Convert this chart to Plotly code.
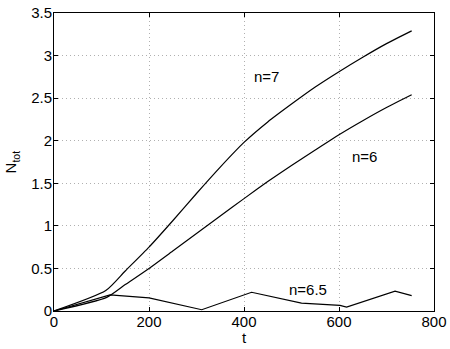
import plotly.graph_objects as go

# n = 7
t_n7 = [0, 109, 150, 200, 250, 300, 350, 400, 450, 500, 550, 600, 650, 700, 753]
v_n7 = [0, 0.24, 0.47, 0.75, 1.06, 1.38, 1.69, 1.98, 2.22, 2.43, 2.63, 2.81, 2.98, 3.14, 3.29]

# n = 6
t_n6 = [0, 111, 150, 200, 250, 300, 350, 400, 450, 500, 550, 600, 650, 700, 753]
v_n6 = [0, 0.16, 0.31, 0.50, 0.705, 0.91, 1.115, 1.32, 1.52, 1.71, 1.89, 2.07, 2.235, 2.39, 2.54]

# n = 6.5
t_n65 = [0, 118, 200, 250, 286, 311, 416, 521, 602, 616, 718, 753]
v_n65 = [0, 0.19, 0.155, 0.09, 0.045, 0.015, 0.22, 0.092, 0.065, 0.045, 0.233, 0.18]

x_ticks = [0, 200, 400, 600, 800]
y_ticks = [0, 0.5, 1, 1.5, 2, 2.5, 3, 3.5]

labels = ["n=7", "n=6", "n=6.5"]
label_t = [448, 654, 534]
label_v = [2.75, 1.81, 0.25]

FONT = "Liberation Sans, Arial, Helvetica, sans-serif"

fig = go.Figure()
for tx, vy, shp in [(t_n7, v_n7, "spline"), (t_n6, v_n6, "spline"), (t_n65, v_n65, "linear")]:
    fig.add_trace(go.Scatter(x=tx, y=vy, mode="lines",
                             line=dict(color="black", width=1.2, shape=shp, smoothing=0.6),
                             showlegend=False, hoverinfo="skip"))

for txt, lx, ly in zip(labels, label_t, label_v):
    fig.add_annotation(x=lx, y=ly, text=txt, showarrow=False,
                       font=dict(family=FONT, size=15, color="black"))

# axis titles
fig.add_annotation(x=0.5, y=-0.09, xref="paper", yref="paper", text="t",
                   showarrow=False, xanchor="center", yanchor="middle",
                   font=dict(family=FONT, size=15, color="black"))
fig.add_annotation(x=-0.112, y=0.5, xref="paper", yref="paper", text="N<sub>tot</sub>",
                   showarrow=False, xanchor="center", yanchor="middle", textangle=-90,
                   font=dict(family=FONT, size=15, color="black"))

axis_common = dict(
    showline=True, linecolor="black", linewidth=1, mirror="ticks",
    ticks="inside", ticklen=4, tickcolor="black",
    showgrid=True, gridcolor="#b0b0b0", griddash="1px,3px", gridwidth=1,
    zeroline=False, automargin=False,
    tickfont=dict(family=FONT, size=15, color="black"),
)

fig.update_xaxes(range=[0, 800], tickvals=x_ticks, ticklabelstandoff=-3, **axis_common)
fig.update_yaxes(range=[0, 3.5], tickvals=y_ticks, ticklabelstandoff=-2, **axis_common)

fig.update_layout(
    width=450, height=349,
    margin=dict(l=54, r=16, t=13, b=38, pad=0),
    paper_bgcolor="white", plot_bgcolor="white",
)

fig.write_html("out.html", config={"displayModeBar": False, "staticPlot": True},
               post_script="document.body.style.margin='0';document.body.style.overflow='hidden';")
